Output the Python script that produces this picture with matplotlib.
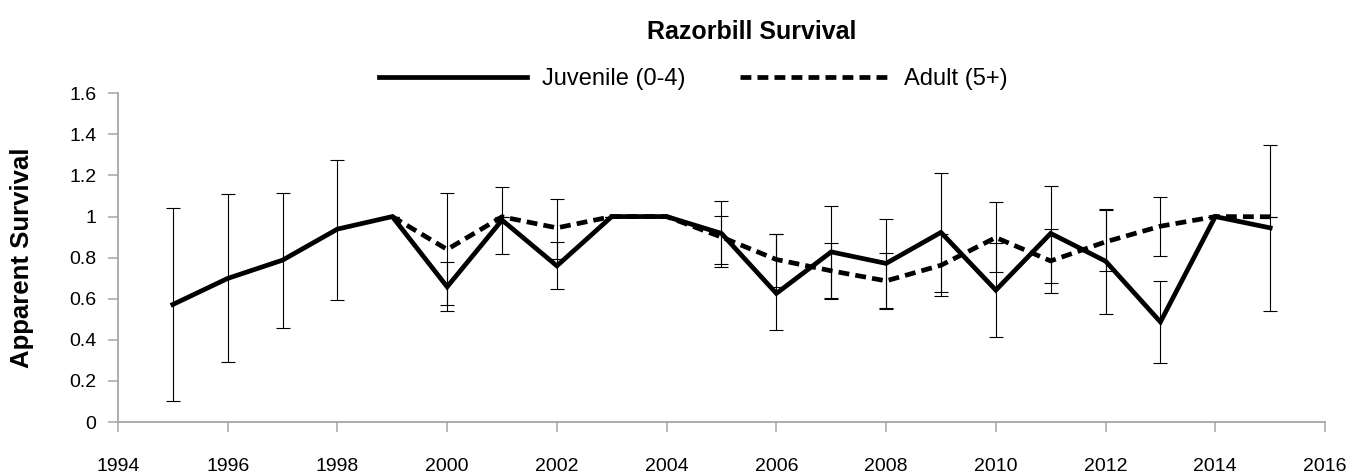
import numpy as np
import matplotlib.pyplot as plt

plt.rcParams['font.family'] = ['Liberation Sans', 'DejaVu Sans']

# data
juv_years = np.arange(1995, 2016)
juvenile = [0.572, 0.699, 0.788, 0.939, 1.0, 0.658, 0.983, 0.760, 1.0, 1.0, 0.918,
            0.626, 0.828, 0.772, 0.923, 0.642, 0.918, 0.783, 0.487, 1.0, 0.945]
juv_lo = [0.100, 0.291, 0.460, 0.596, 1.0, 0.569, 0.817, 0.647, 1.0, 1.0, 0.755,
          0.447, 0.598, 0.548, 0.612, 0.414, 0.626, 0.525, 0.289, 1.0, 0.539]
juv_hi = [1.041, 1.108, 1.116, 1.275, 1.0, 0.777, 1.142, 0.874, 1.0, 1.0, 1.077,
          0.913, 1.052, 0.986, 1.213, 0.872, 1.150, 1.036, 0.684, 1.0, 1.347]

ad_years = np.arange(1999, 2016)
adult = [1.0, 0.840, 0.999, 0.945, 1.0, 1.0, 0.900, 0.791, 0.736, 0.687, 0.763,
         0.898, 0.784, 0.877, 0.953, 1.0, 0.999]
ad_lo = [1.0, 0.539, 0.999, 0.793, 1.0, 1.0, 0.767, 0.658, 0.603, 0.555, 0.633,
         0.731, 0.679, 0.736, 0.809, 1.0, 0.999]
ad_hi = [1.0, 1.113, 0.999, 1.085, 1.0, 1.0, 1.004, 0.913, 0.871, 0.823, 0.913,
         1.069, 0.939, 1.031, 1.096, 1.0, 0.999]


def yerr(vals, lo, hi):
    v = np.array(vals)
    return [np.clip(v - np.array(lo), 0, None), np.clip(np.array(hi) - v, 0, None)]


fig = plt.figure(figsize=(13.59, 4.76), dpi=100)
ax = fig.add_axes([0.0868, 0.1134, 0.8882, 0.6906])

ax.errorbar(juv_years, juvenile, yerr=yerr(juvenile, juv_lo, juv_hi), fmt='none',
            ecolor='black', elinewidth=0.8, capsize=4.7, capthick=0.8, zorder=2)
ax.errorbar(ad_years, adult, yerr=yerr(adult, ad_lo, ad_hi), fmt='none',
            ecolor='black', elinewidth=0.8, capsize=4.7, capthick=0.8, zorder=2)

ax.plot(juv_years, juvenile, color='black', lw=3.4, solid_joinstyle='miter',
        label='Juvenile (0-4)', zorder=3)
ax.plot(ad_years, adult, color='black', lw=3.4, dashes=(2.3, 1.3),
        label='Adult (5+)', zorder=3)

ax.set_xlim(1994, 2016)
ax.set_ylim(0, 1.6)
ax.set_xticks(np.arange(1994, 2017, 2))
ax.set_yticks(np.arange(0, 1.61, 0.2))
ax.set_yticklabels(['0', '0.2', '0.4', '0.6', '0.8', '1', '1.2', '1.4', '1.6'])

for s in ['top', 'right']:
    ax.spines[s].set_visible(False)
for s in ['left', 'bottom']:
    ax.spines[s].set_color('#a6a6a6')
    ax.spines[s].set_linewidth(1.3)
ax.tick_params(axis='both', colors='#a6a6a6', length=7, width=1.1,
               labelcolor='black', labelsize=14)
ax.tick_params(axis='x', pad=19)
ax.tick_params(axis='y', pad=8.5)

ax.set_ylabel('Apparent Survival', fontsize=18.5, fontweight='bold')
ax.yaxis.set_label_coords(-0.0696, 0.5)
fig.suptitle('Razorbill Survival', fontsize=18, fontweight='bold', x=0.553, y=0.958)

fig.legend(loc='center', bbox_to_anchor=(0.510, 0.834), ncol=2, frameon=False,
           fontsize=17, handlelength=6.3, handletextpad=0.64, columnspacing=2.3)

fig.savefig('out.png', dpi=100)
